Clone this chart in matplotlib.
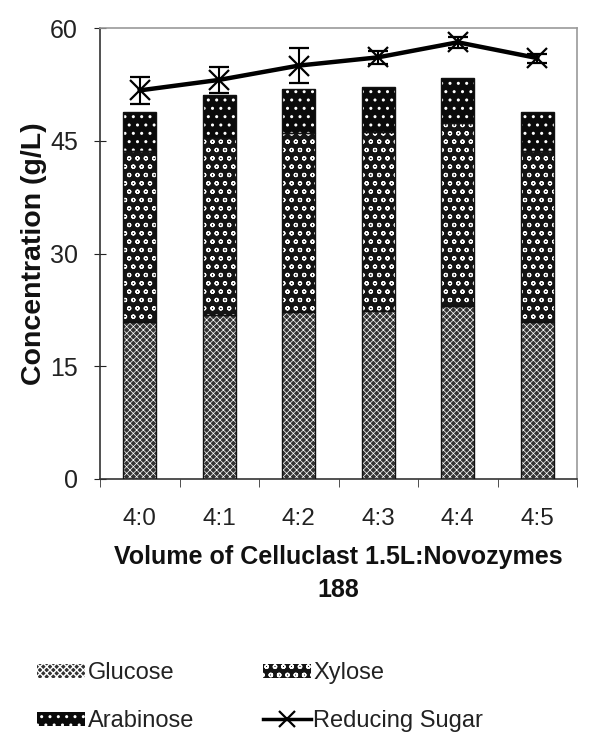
import matplotlib
matplotlib.use("Agg")
import matplotlib.pyplot as plt
import numpy as np
from matplotlib.patches import Patch
from matplotlib.lines import Line2D

plt.rcParams['font.family'] = ['Liberation Sans', 'DejaVu Sans']

categories = ['4:0', '4:1', '4:2', '4:3', '4:4', '4:5']
glucose = [20.9, 21.8, 22.2, 22.3, 23.0, 20.9]
xylose = [22.7, 23.5, 23.8, 23.8, 24.3, 22.7]
arabinose = [5.2, 5.8, 5.9, 6.0, 6.0, 5.2]
reducing_sugar = [51.7, 53.1, 55.0, 56.1, 58.1, 56.0]
reducing_err = [1.8, 1.7, 2.3, 0.9, 0.7, 0.6]

fig = plt.figure(figsize=(5.89, 7.34), dpi=100)
ax = fig.add_axes([100/589, 1-479/734, 477/589, 451/734])

x = np.arange(len(categories))
w = 0.415

styles = [
    (glucose, '#333333', 'xxxxx', 0.5),
    (xylose, '#141414', 'oo', 0.8),
    (arabinose, '#0a0a0a', '..', 1.0),
]
handles = []
bottom = np.zeros(len(categories))
for vals, fc, hatch, hlw in styles:
    vals = np.array(vals)
    with plt.rc_context({'hatch.linewidth': hlw}):
        ax.bar(x, vals, w, bottom=bottom, color=fc, edgecolor='white', hatch=hatch, linewidth=0, zorder=2)
        handles.append(Patch(facecolor=fc, edgecolor='white', hatch=hatch, linewidth=0))
    ax.bar(x, vals, w, bottom=bottom, facecolor='none', edgecolor='#111111', linewidth=1.0, zorder=3)
    bottom += vals

ax.errorbar(x, reducing_sugar, yerr=reducing_err, color='black', lw=3.2, marker='x',
            ms=14, mew=1.6, capsize=7, capthick=1.5, elinewidth=1.5, zorder=5)

ax.set_xlim(-0.5, 5.5)
ax.set_ylim(0, 60)
ax.set_yticks([0, 15, 30, 45, 60])
ax.set_xticks(x)
ax.set_xticklabels(categories)
ax.set_xticks(np.arange(-0.5, 5.6, 1), minor=True)
ax.tick_params(axis='x', which='major', length=0, labelsize=17.5, pad=21, colors='#222222')
ax.tick_params(axis='x', which='minor', length=6, direction='out', color='#333333')
ax.tick_params(axis='y', length=8, direction='inout', labelsize=18, colors='#222222', pad=12)

for s in ['top', 'right']:
    ax.spines[s].set_color('#9a9a9a')
    ax.spines[s].set_linewidth(1.2)
for s in ['left', 'bottom']:
    ax.spines[s].set_color('#333333')
    ax.spines[s].set_linewidth(1.2)

ax.set_ylabel('Concentration (g/L)', fontsize=20.5, fontweight='bold', labelpad=2, color='#111111')
ax.set_xlabel('Volume of Celluclast 1.5L:Novozymes\n188', fontsize=18, fontweight='bold',
              labelpad=11, linespacing=1.45, color='#111111')

h_glu, h_xyl, h_ara = handles
h_rs = Line2D([], [], color='black', lw=2.5, marker='x', ms=12, mew=1.6)
fig.legend([h_glu, h_ara, h_xyl, h_rs], ['Glucose', 'Arabinose', 'Xylose', 'Reducing Sugar'],
           ncol=2, loc='upper left', bbox_to_anchor=(37/589, 1-662/734), frameon=False,
           fontsize=17, handlelength=2.03, handleheight=0.55, handletextpad=0.12,
           columnspacing=2.9, labelspacing=1.1, borderpad=0, borderaxespad=0,
           labelcolor='#222222')

fig.savefig('out.png', dpi=100)
